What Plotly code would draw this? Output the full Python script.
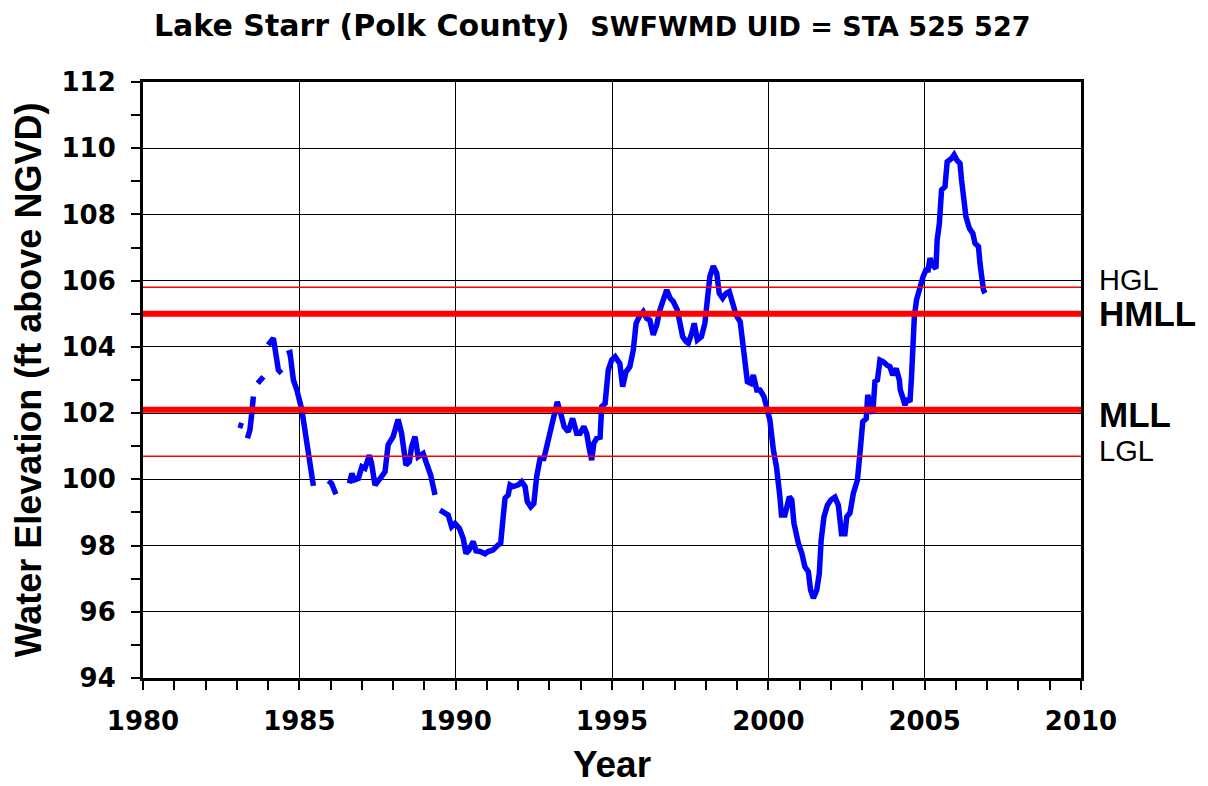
import plotly.graph_objects as go

# Lake level record (None = gap in record)
years = [
    1983.05, 1983.2, None,
    1983.34, 1983.42, 1983.48, 1983.53, None,
    1983.67, 1983.85, None,
    1984.0, 1984.17, 1984.33, 1984.43, None,
    1984.6, 1984.7, 1984.81, 1984.92, 1985.08, 1985.18, 1985.27, 1985.37, 1985.45, None,
    1985.93, 1986.03, 1986.17, None,
    1986.6, 1986.68, 1986.76, 1986.89, 1987.0, 1987.1, 1987.24, 1987.31, 1987.42, 1987.52,
    1987.63, 1987.74, 1987.84, 1988.0, 1988.16, 1988.27, 1988.41, 1988.52, 1988.59, 1988.7,
    1988.8, 1988.96, 1989.07, 1989.2, 1989.34, None,
    1989.5, 1989.6, 1989.76, 1989.87, 1989.98, 1990.12, 1990.24, 1990.33, 1990.43, 1990.56,
    1990.65, 1990.78, 1990.94, 1991.04, 1991.2, 1991.36, 1991.44, 1991.52, 1991.58, 1991.68,
    1991.74, 1991.84, 1992.0, 1992.11, 1992.22, 1992.29, 1992.4, 1992.5, 1992.59, 1992.7,
    1992.82, 1992.91, 1993.07, 1993.18, 1993.25, 1993.36, 1993.47, 1993.6, 1993.74, 1993.87,
    1993.98, 1994.1, 1994.19, 1994.27, 1994.35, 1994.42, 1994.51, 1994.62, 1994.67, 1994.78,
    1994.88, 1994.99, 1995.1, 1995.25, 1995.34, 1995.45, 1995.57, 1995.68, 1995.77, 1995.87,
    1996.0, 1996.11, 1996.21, 1996.32, 1996.43, 1996.53, 1996.64, 1996.75, 1996.86, 1996.96,
    1997.09, 1997.17, 1997.26, 1997.37, 1997.44, 1997.55, 1997.63, 1997.73, 1997.86, 1997.97,
    1998.05, 1998.13, 1998.24, 1998.35, 1998.43, 1998.54, 1998.65, 1998.75, 1998.86, 1998.97,
    1999.1, 1999.18, 1999.25, 1999.33, 1999.44, 1999.52, 1999.63, 1999.73, 1999.86, 1999.95,
    2000.05, 2000.16, 2000.26, 2000.37, 2000.42, 2000.53, 2000.67, 2000.75, 2000.82, 2000.96,
    2001.07, 2001.17, 2001.28, 2001.35, 2001.44, 2001.55, 2001.63, 2001.69, 2001.78, 2001.89,
    2002.0, 2002.13, 2002.24, 2002.34, 2002.45, 2002.51, 2002.61, 2002.72, 2002.85, 2002.94,
    2003.02, 2003.13, 2003.18, 2003.26, 2003.34, 2003.41, 2003.49, 2003.57, 2003.68, 2003.79,
    2003.89, 2003.98, 2004.09, 2004.19, 2004.22, 2004.29, 2004.37, 2004.44, 2004.53, 2004.58,
    2004.63, 2004.67, 2004.74, 2004.85, 2004.95, 2005.04, 2005.11, 2005.17, 2005.25, 2005.36,
    2005.4, 2005.47, 2005.54, 2005.65, 2005.72, 2005.86, 2005.94, 2006.03, 2006.13, 2006.18,
    2006.26, 2006.32, 2006.43, 2006.54, 2006.61, 2006.72, 2006.77, 2006.83, 2006.88, 2006.93,
]
levels = [
    101.65, 101.6, None,
    101.24, 101.49, 102.0, 102.5, None,
    102.9, 103.1, None,
    104.06, 104.26, 103.3, 103.2, None,
    103.8, 103.83, 103.0, 102.7, 102.1, 101.49, 100.79, 100.38, 99.8, None,
    99.96, 99.88, 99.55, None,
    99.88, 100.18, 99.98, 100.03, 100.38, 100.33, 100.73, 100.48, 99.83, 99.98,
    100.08, 100.23, 101.04, 101.29, 101.81, 101.39, 100.43, 100.53, 100.98, 101.29,
    100.68, 100.78, 100.53, 100.13, 99.53, None,
    99.07, 99.02, 98.92, 98.57, 98.67, 98.52, 98.22, 97.76, 97.87, 98.12,
    97.84, 97.82, 97.75, 97.82, 97.87, 98.02, 98.07, 98.87, 99.43, 99.53,
    99.83, 99.78, 99.83, 99.93, 99.78, 99.33, 99.17, 99.27, 100.08, 100.63,
    100.63, 100.98, 101.64, 102.09, 102.34, 101.99, 101.59, 101.44, 101.84, 101.39,
    101.39, 101.59, 101.39, 100.94, 100.58, 101.09, 101.24, 101.27, 102.19, 102.29,
    103.3, 103.6, 103.7, 103.5, 102.8, 103.25, 103.4, 103.9, 104.71, 104.91,
    105.06, 104.86, 104.81, 104.36, 104.66, 105.11, 105.47, 105.72, 105.47, 105.37,
    105.11, 104.76, 104.31, 104.16, 104.11, 104.41, 104.71, 104.21, 104.31, 104.71,
    105.32, 106.12, 106.44, 106.22, 105.62, 105.47, 105.62, 105.67, 105.32, 104.96,
    104.76, 104.11, 103.6, 102.95, 102.9, 103.15, 102.7, 102.7, 102.5, 102.19,
    101.79, 100.9, 100.38, 99.47, 98.92, 98.92, 99.47, 99.38, 98.67, 98.07,
    97.77, 97.36, 97.21, 96.66, 96.41, 96.66, 97.16, 98.17, 98.87, 99.22,
    99.38, 99.46, 99.22, 98.36, 98.36, 98.87, 98.98, 99.58, 99.98, 100.89,
    101.74, 101.84, 102.55, 102.19, 101.99, 102.95, 103.0, 103.6, 103.55, 103.45,
    103.4, 103.15, 103.35, 103.0, 102.7, 102.5, 102.24, 102.44, 102.34, 103.1,
    104.31, 104.91, 105.42, 105.82, 106.12, 106.32, 106.32, 106.68, 106.47, 106.37,
    107.23, 107.73, 108.74, 108.84, 109.59, 109.69, 109.8, 109.64, 109.54, 109.04,
    108.54, 107.93, 107.58, 107.43, 107.13, 107.03, 106.52, 106.02, 105.72, 105.62,
]

# Guidance levels
level_names = ["HGL", "HMLL", "MLL", "LGL"]
level_values = [105.8, 105.0, 102.1, 100.7]
level_bold = [False, True, True, False]
label_shift = [7, 0, -5, 5]

x_span = [1980, 2010]
y_range = [94, 112]

ARIAL = "Arial, Liberation Sans, sans-serif"
WIDE = "DejaVu Sans, Arial, sans-serif"

fig = go.Figure()

fig.add_trace(go.Scatter(
    x=years, y=levels, mode="lines", connectgaps=False,
    line=dict(color="#0000FF", width=5.5), showlegend=False, hoverinfo="skip",
))

for name, val, bold, ys in zip(level_names, level_values, level_bold, label_shift):
    fig.add_trace(go.Scatter(
        x=x_span, y=[val, val], mode="lines",
        line=dict(color="#FF0000", width=6 if bold else 1.5),
        showlegend=False, hoverinfo="skip",
    ))
    fig.add_annotation(
        x=1.0, xref="paper", y=val, yref="y", xanchor="left", yanchor="middle",
        xshift=17, yshift=ys, borderpad=0,
        text=("<b>%s</b>" % name) if bold else name, showarrow=False,
        font=dict(family=ARIAL, size=35 if bold else 29, color="black"),
    )

fig.add_annotation(
    x=0.5, xref="paper", y=1.0, yref="paper", yanchor="middle", xanchor="center",
    xshift=-20, yshift=57,
    text="<b>Lake Starr (Polk County)  <span style='font-size:27px'>SWFWMD UID = STA 525 527</span></b>",
    showarrow=False, font=dict(family=WIDE, size=30, color="black"),
)

axis_common = dict(
    showline=True, linecolor="black", linewidth=3, mirror=True,
    showgrid=True, gridcolor="black", gridwidth=1,
    ticks="outside", ticklen=9, tickwidth=2, tickcolor="black",
    tickfont=dict(family=WIDE, size=26, color="black"),
    zeroline=False, automargin=False,
)

fig.update_xaxes(
    range=x_span, dtick=5, tick0=1980,
    minor=dict(dtick=1, ticks="outside", ticklen=9, tickwidth=2, tickcolor="black", showgrid=False),
    title=dict(text="<b>Year</b>", font=dict(family=ARIAL, size=37, color="black"), standoff=16),
    tickprefix="<b>", ticksuffix="</b>", ticklabelstandoff=9,
    **axis_common,
)
fig.update_yaxes(
    range=y_range, dtick=2, tick0=94,
    minor=dict(dtick=1, ticks="outside", ticklen=9, tickwidth=2, tickcolor="black", showgrid=False),
    title=dict(text="<b>Water Elevation (ft above NGVD)</b>", font=dict(family=ARIAL, size=36, color="black"), standoff=22),
    tickprefix="<b>", ticksuffix="</b>", ticklabelstandoff=10,
    **axis_common,
)

fig.update_layout(
    width=1208, height=786,
    margin=dict(l=135, r=135, t=74, b=116),
    paper_bgcolor="white", plot_bgcolor="white",
    font=dict(family=ARIAL, color="black"),
)

fig.write_html("out.html")
